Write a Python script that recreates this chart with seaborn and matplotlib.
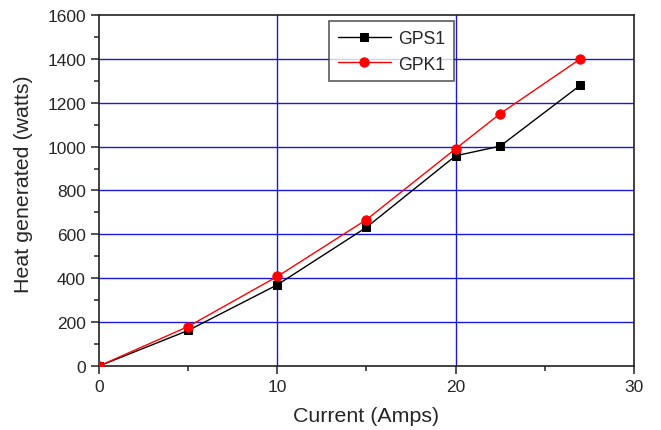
import numpy as np
import pandas as pd
import matplotlib
matplotlib.use('Agg')
import matplotlib.pyplot as plt
from matplotlib.ticker import MultipleLocator
import seaborn as sns

# data
current_gps1 = [0, 5, 10, 15, 20, 22.5, 27]
heat_gps1 = [0, 162, 370, 632, 958, 1002, 1280]
current_gpk1 = [0, 5, 10, 15, 20, 22.5, 27]
heat_gpk1 = [0, 180, 408, 667, 990, 1150, 1400]

sns.set_style('white')
plt.rcParams['font.family'] = ['Liberation Sans', 'DejaVu Sans']

fig = plt.figure(figsize=(6.61, 4.31), dpi=100)
ax = fig.add_axes([0.1498, 0.1485, 0.8092, 0.8145])

df1 = pd.DataFrame({'x': current_gps1, 'y': heat_gps1})
df2 = pd.DataFrame({'x': current_gpk1, 'y': heat_gpk1})

sns.lineplot(data=df1, x='x', y='y', ax=ax, color='black', lw=1, marker='s',
             markersize=6, markeredgecolor='black', label='GPS1', zorder=3)
sns.lineplot(data=df2, x='x', y='y', ax=ax, color='red', lw=1, marker='o',
             markersize=6.7, markeredgecolor='red', label='GPK1', zorder=4)

ax.set_xlim(0, 30)
ax.set_ylim(0, 1600)
ax.xaxis.set_major_locator(MultipleLocator(10))
ax.xaxis.set_minor_locator(MultipleLocator(5))
ax.yaxis.set_major_locator(MultipleLocator(200))
ax.yaxis.set_minor_locator(MultipleLocator(100))

for v in [10, 20]:
    ax.axvline(v, color='#1a1ad6', lw=1, zorder=1)
for v in range(200, 1600, 200):
    ax.axhline(v, color='#1a1ad6', lw=1, zorder=1)

for s in ax.spines.values():
    s.set_color('#222222')
    s.set_linewidth(1.2)

ax.tick_params(which='major', direction='out', length=6, width=1.1, labelsize=12.5,
               bottom=True, left=True, top=False, right=False, color='#222222')
ax.tick_params(which='minor', direction='out', length=3.5, width=1.1,
               bottom=True, left=True, top=False, right=False, color='#222222')

ax.set_xlabel('Current (Amps)', fontsize=15.4)
ax.set_ylabel('Heat generated (watts)', fontsize=15.4)
ax.xaxis.set_label_coords(0.5, -0.115)
ax.yaxis.set_label_coords(-0.123, 0.52)

leg = ax.legend(loc='upper left', bbox_to_anchor=(0.43, 0.983), fontsize=12.7,
                frameon=True, fancybox=False, edgecolor='#333333',
                handlelength=3.0, handletextpad=0.4, borderpad=0.5,
                labelspacing=0.5, borderaxespad=0)
leg.get_frame().set_linewidth(1.2)

fig.savefig('out.png', dpi=100)
